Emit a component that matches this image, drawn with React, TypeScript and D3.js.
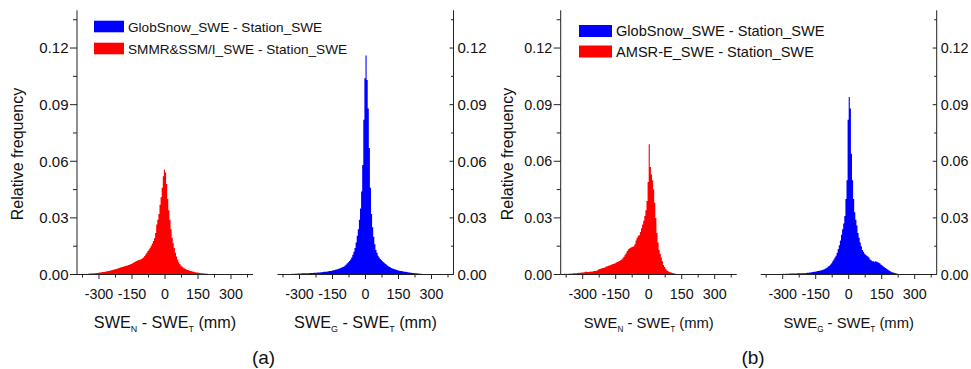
import React from 'react';
import * as d3 from 'd3';

// bin width of all four histograms (mm)
const BIN_WIDTH = 5;
const X_DOMAIN = [-400, 400];
const X_TICKS = [-300, -150, 0, 150, 300];
const X_MINOR = [-375, -225, -75, 75, 225, 375];
const Y_TICKS = [0, 0.03, 0.06, 0.09, 0.12];
const Y_MINOR = [0.015, 0.045, 0.075, 0.105, 0.135];

// relative frequency per bin, in thousandths; *_START is the lower edge of the first bin
const SMMR_START = -390;
const SMMR = [
  0.2, 0.2, 0.3, 0.2, 0.3, 0.3, 0.4, 0.3, 0.4, 0.5,
  0.5, 0.6, 0.5, 0.7, 0.7, 0.8, 0.8, 0.9, 1.0, 1.1,
  1.2, 1.3, 1.3, 1.5, 1.6, 1.7, 1.8, 1.9, 2.1, 2.2,
  2.4, 2.6, 2.7, 2.9, 3.1, 3.3, 3.4, 3.7, 3.9, 4.0,
  4.2, 4.4, 4.6, 4.7, 5.0, 5.1, 5.4, 5.6, 5.9, 6.2,
  6.6, 6.9, 7.2, 7.5, 7.7, 7.9, 8.1, 8.6, 9.0, 9.8,
  10.6, 11.5, 12.4, 13.2, 14.2, 15.3, 16.4, 17.8, 19.2, 22,
  26.5, 29, 32, 37, 41, 46, 52, 55.5, 54, 48,
  40, 34, 29, 24, 19.5, 16.5, 14, 11.5, 9.5, 7.8,
  6.5, 5.5, 4.8, 4.2, 3.7, 3.3, 3.0, 2.7, 2.4, 2.2,
  2.0, 1.8, 1.7, 1.5, 1.4, 1.2, 1.1, 1.0, 0.9, 0.8,
  0.7, 0.7, 0.6, 0.5, 0.5, 0.4, 0.4, 0.3, 0.3, 0.2,
  0.2, 0.15, 0.1, 0.1,
];

const GLOB_A_START = -395;
const GLOB_A = [
  0.1, 0.2, 0.1, 0.2, 0.2, 0.2, 0.3, 0.2, 0.3, 0.3,
  0.3, 0.3, 0.4, 0.3, 0.4, 0.4, 0.4, 0.5, 0.5, 0.5,
  0.5, 0.6, 0.6, 0.6, 0.6, 0.7, 0.7, 0.7, 0.8, 0.8,
  0.8, 0.8, 0.9, 0.9, 0.9, 1.0, 1.0, 1.1, 1.2, 1.2,
  1.3, 1.4, 1.5, 1.5, 1.6, 1.7, 1.8, 1.9, 2.0, 2.2,
  2.3, 2.5, 2.6, 2.8, 3.0, 3.2, 3.4, 3.7, 4.0, 4.3,
  4.8, 5.3, 5.9, 6.5, 7.2, 8.0, 9.0, 10.5, 12.0, 14.0,
  17, 20.5, 24, 29, 35, 44, 58, 82, 104, 116,
  103, 88, 67, 46, 32, 25, 20, 16, 13, 11.5,
  10, 9, 8.2, 7.6, 7.0, 6.5, 6.0, 5.5, 5.0, 4.5,
  4.1, 3.8, 3.5, 3.2, 3.0, 2.8, 2.6, 2.4, 2.2, 2.0,
  1.9, 1.8, 1.7, 1.6, 1.5, 1.4, 1.3, 1.2, 1.1, 1.0,
  0.9, 0.8, 0.8, 0.7, 0.6, 0.6, 0.5, 0.5, 0.4, 0.4,
  0.3, 0.3, 0.3, 0.2, 0.2, 0.2, 0.1, 0.1, 0.1, 0.1,
];

const AMSR_START = -390;
const AMSR = [
  0.3, 0.4, 0.3, 0.4, 0.3, 0.4, 0.5, 0.4, 0.5, 0.6,
  0.6, 0.7, 0.6, 0.8, 0.9, 0.8, 1.0, 1.1, 1.0, 1.2,
  1.5, 1.4, 1.3, 1.3, 1.4, 1.6, 1.5, 1.7, 1.8, 1.9,
  2.0, 2.3, 2.6, 2.9, 3.1, 3.3, 3.5, 3.6, 3.9, 4.2,
  4.4, 4.6, 4.8, 5.1, 5.3, 5.5, 5.7, 6.0, 6.3, 6.6,
  6.9, 7.2, 7.5, 8.0, 8.6, 9.4, 10.4, 11.3, 12.5, 13.4,
  13.8, 14.2, 14.5, 14.7, 15.0, 16.0, 18.0, 19.5, 20.5, 20.8,
  22.5, 24.5, 26.5, 28.5, 31, 34, 39, 49, 69, 57,
  53, 50, 45, 38, 30, 22, 17, 13, 11, 9,
  7, 5, 4, 3, 2.2, 1.8, 1.5, 1.2, 1.0, 0.8,
  0.6, 0.5, 0.4, 0.3, 0.3, 0.2, 0.2, 0.1, 0.1, 0.1,
];

const GLOB_B_START = -395;
const GLOB_B = [
  0.1, 0.1, 0.1, 0.2, 0.1, 0.1, 0.2, 0.1, 0.2, 0.2,
  0.2, 0.2, 0.2, 0.3, 0.2, 0.3, 0.3, 0.3, 0.3, 0.4,
  0.3, 0.4, 0.4, 0.4, 0.4, 0.5, 0.5, 0.5, 0.5, 0.5,
  0.5, 0.5, 0.6, 0.6, 0.6, 0.6, 0.7, 0.7, 0.7, 0.7,
  0.8, 0.9, 0.9, 1.0, 1.1, 1.2, 1.3, 1.4, 1.5, 1.6,
  1.8, 1.9, 2.0, 2.1, 2.3, 2.5, 2.7, 3.0, 3.3, 3.7,
  4.2, 4.7, 5.3, 6, 7, 8, 9, 10, 11.5, 13.5,
  15.5, 18, 21, 24, 27, 31, 40, 50, 82, 94,
  88, 64, 50, 40, 33, 29, 26, 22, 19.5, 17,
  15, 13, 12, 11, 10.5, 10, 9.5, 9, 8, 7.5,
  7, 7, 6.8, 7, 6.8, 6.5, 6.2, 5.8, 5.2, 4.8,
  4.3, 3.8, 3.4, 3.0, 2.6, 2.2, 1.8, 1.5, 1.2, 1.0,
  0.8, 0.6, 0.5, 0.4, 0.3, 0.3, 0.2, 0.2, 0.1, 0.1,
];

const LEGEND_A = ['GlobSnow_SWE - Station_SWE', 'SMMR&SSM/I_SWE - Station_SWE'];
const LEGEND_B = ['GlobSnow_SWE - Station_SWE', 'AMSR-E_SWE - Station_SWE'];

const RED = '#ff0000';
const BLUE = '#0000ff';
const AXIS = '#222';
const FONT = '"Liberation Sans", Arial, sans-serif';

const PLOT_W = 176;
const Y0 = 274.5;
const Y_TOP = 10.3;

function Histogram({ left, start, values, color, side, tickFont, xTickFont, titleFont, sub }) {
  const x = d3.scaleLinear().domain(X_DOMAIN).range([left, left + PLOT_W]);
  const y = d3.scaleLinear().domain([0, 0.14]).range([Y0, Y_TOP]);
  const pts = values.map((v, i) => [start + i * BIN_WIDTH, v / 1000]);
  pts.push([start + values.length * BIN_WIDTH, 0]);
  const area = d3.area()
    .x(d => x(d[0]))
    .y0(y(0))
    .y1(d => y(d[1]))
    .curve(d3.curveStepAfter);

  const ax = side === 'left' ? left : left + PLOT_W;
  const fmt = d3.format('.2f');

  return (
    <g>
      <path d={area(pts)} fill={color} />
      {/* x axis */}
      <line x1={left} x2={left + PLOT_W} y1={Y0} y2={Y0} stroke={AXIS} />
      {X_TICKS.map(t => (
        <g key={t}>
          <line x1={x(t)} x2={x(t)} y1={Y0} y2={Y0 + 4.5} stroke={AXIS} />
          <text x={x(t)} y={299} textAnchor="middle" fontSize={xTickFont}>{t}</text>
        </g>
      ))}
      {X_MINOR.map(t => (
        <line key={t} x1={x(t)} x2={x(t)} y1={Y0} y2={Y0 + 3} stroke={AXIS} />
      ))}
      <text x={x(0)} y={328} textAnchor="middle" fontSize={titleFont}>
        SWE<tspan fontSize={titleFont * 0.55} dy={4}>{sub}</tspan>
        <tspan dy={-4}> - SWE</tspan>
        <tspan fontSize={titleFont * 0.55} dy={4}>T</tspan>
        <tspan dy={-4}> (mm)</tspan>
      </text>
      {/* y axis */}
      <line x1={ax} x2={ax} y1={Y_TOP} y2={Y0} stroke={AXIS} />
      {Y_TICKS.map(t => (
        <g key={t}>
          <line x1={side === 'left' ? ax - 7 : ax - 4} x2={ax} y1={y(t)} y2={y(t)} stroke={AXIS} />
          <text
            x={side === 'left' ? ax - 8.5 : ax + 4}
            y={y(t)}
            dy="0.35em"
            textAnchor={side === 'left' ? 'end' : 'start'}
            fontSize={tickFont}
          >{fmt(t)}</text>
        </g>
      ))}
      {Y_MINOR.map(t => (
        <line key={t} x1={side === 'left' ? ax - 4 : ax - 2.5} x2={ax} y1={y(t)} y2={y(t)} stroke={AXIS} />
      ))}
    </g>
  );
}

function Panel({ cfg }) {
  return (
    <g>
      <text
        transform={`translate(${cfg.yTitleX},154) rotate(-90)`}
        textAnchor="middle"
        fontSize={16}
      >Relative frequency</text>
      <Histogram left={cfg.left1} start={cfg.redStart} values={cfg.red} color={RED}
        side="left" tickFont={cfg.tickFont} xTickFont={14.3} titleFont={cfg.titleFont} sub="N" />
      <Histogram left={cfg.left2} start={cfg.blueStart} values={cfg.blue} color={BLUE}
        side="right" tickFont={cfg.tickFont} xTickFont={14.3} titleFont={cfg.titleFont} sub="G" />
      {cfg.legend.map((s, i) => (
        <g key={s}>
          <rect x={cfg.legendX} y={cfg.legendY[i]} width={cfg.legendW} height={cfg.legendH}
            fill={i === 0 ? BLUE : RED} />
          <text x={cfg.legendX + cfg.legendW + 4} y={cfg.legendY[i] + cfg.legendH / 2 + 5}
            fontSize={cfg.legendFont}>{s}</text>
        </g>
      ))}
      <text x={cfg.labelX} y={364} textAnchor="middle" fontSize={19}>{cfg.label}</text>
    </g>
  );
}

const PANELS = [
  {
    label: '(a)', labelX: 263.5, left1: 77, left2: 277.5, yTitleX: 23,
    redStart: SMMR_START, red: SMMR, blueStart: GLOB_A_START, blue: GLOB_A,
    legend: LEGEND_A, legendX: 94, legendY: [20.7, 42.7], legendW: 30, legendH: 11.6,
    legendFont: 13.6, tickFont: 15, titleFont: 16.2,
  },
  {
    label: '(b)', labelX: 753, left1: 560.7, left2: 760.7, yTitleX: 512.5,
    redStart: AMSR_START, red: AMSR, blueStart: GLOB_B_START, blue: GLOB_B,
    legend: LEGEND_B, legendX: 579, legendY: [25, 45.5], legendW: 33, legendH: 12,
    legendFont: 14.6, tickFont: 14.3, titleFont: 14.8,
  },
];

export default function App() {
  return (
    <svg
      width={971}
      height={369}
      style={{ position: 'absolute', left: 0, top: 0, background: '#fff' }}
      fontFamily={FONT}
      fill="#111"
    >
      {PANELS.map(p => <Panel key={p.label} cfg={p} />)}
    </svg>
  );
}
